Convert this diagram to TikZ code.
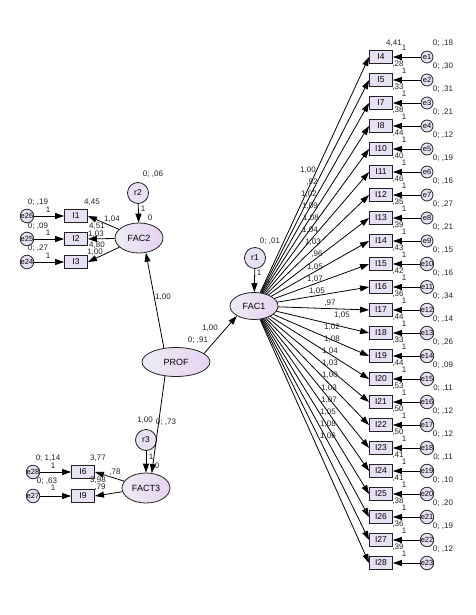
\documentclass[tikz,border=0pt]{standalone}
\usepackage{fontspec}
\setmainfont{Liberation Sans}
\usetikzlibrary{arrows.meta, shapes.geometric}
\definecolor{nodelav}{RGB}{232,224,244}
\definecolor{ellleft}{RGB}{236,236,244}
\definecolor{ellright}{RGB}{232,210,242}
\definecolor{linegray}{RGB}{35,35,35}

\begin{document}
\begin{tikzpicture}[
    x=1pt, y=-1pt,
    latent/.style={ellipse, draw=linegray, line width=0.8pt, left color=ellleft, right color=ellright,
                   inner sep=0pt, font=\fontsize{9}{10}\selectfont},
    obs/.style={rectangle, draw=linegray, line width=0.9pt, fill=nodelav, minimum width=23pt,
                minimum height=13pt, inner sep=0pt, font=\fontsize{8.5}{9}\selectfont},
    resid/.style={circle, draw=linegray, line width=0.8pt, fill=nodelav, minimum size=21pt,
                  inner sep=0pt, font=\fontsize{8.5}{9}\selectfont},
    err/.style={circle, draw=linegray, line width=0.8pt, fill=nodelav, minimum size=12pt,
                inner sep=0pt, font=\fontsize{7.5}{8}\selectfont},
    val/.style={inner sep=0pt, font=\fontsize{8}{9}\selectfont, text=linegray},
    arr/.style={-{Triangle[length=9pt, width=6pt]}, line width=0.8pt, color=black}
]
\useasboundingbox (0,0) rectangle (475,615);

% Latent factors
\node[latent, minimum width=68pt, minimum height=29pt] (PROF) at (176,362) {PROF};
\node[latent, minimum width=48pt, minimum height=27pt] (FAC1) at (254,306) {FAC1};
\node[latent, minimum width=48pt, minimum height=30pt] (FAC2) at (139,238) {FAC2};
\node[latent, minimum width=48pt, minimum height=30pt] (FACT3) at (146,488) {FACT3};

% Disturbances
\node[resid] (r1) at (255,258) {r1};
\node[resid] (r2) at (138,193) {r2};
\node[resid] (r3) at (146,440) {r3};

% FAC1 indicators
\foreach \nm [count=\k] in {4,5,7,8,10,11,12,13,14,15,16,17,18,19,20,21,22,23,24,25,26,27,28} {
  \node[obs] (I\nm) at (381,{34+23*\k}) {I\nm};
  \node[err] (e\k) at (427,{34+23*\k}) {e\k};
  \draw[arr] (e\k) -- (I\nm.east);
  \draw[arr] (FAC1) -- (I\nm.west);
  \node[val] at (404,{25+23*\k}) {1};
}
\foreach \v [count=\k] in {18,30,31,21,12,19,16,27,21,15,16,34,14,26,09,11,12,12,11,10,20,19,12}
  \node[val] at (443,{20+23*\k}) {0; ,\v};
\foreach \v [count=\k] in {28,33,38,44,40,46,35,39,43,42,36,44,33,44,53,50,50,41,41,38,36,39}
  \node[val] at (398,{41+23*\k}) {,\v};
\node[val] at (394,43) {4,41};
\foreach \v/\x [count=\k] in {1{,}00/308, {,}92/312, 1{,}02/309, 1{,}09/310, 1{,}08/311, 1{,}04/310,
    1{,}03/313, {,}96/317, 1{,}05/315, 1{,}07/315, 1{,}05/317, {,}97/330, 1{,}05/342, 1{,}02/332,
    1{,}08/332, 1{,}04/330, 1{,}03/330, 1{,}00/330, 1{,}03/329, 1{,}07/329, 1{,}05/328, 1{,}08/328, 1{,}06/328}
  \node[val] at (\x,{157.9+12.1*\k}) {\v};

% FAC2 indicators
\node[obs] (I1) at (76,216) {I1};
\node[obs] (I2) at (76,239) {I2};
\node[obs] (I3) at (76,262) {I3};
\node[err] (e26) at (27,216) {e26};
\node[err] (e25) at (27,239) {e25};
\node[err] (e24) at (27,262) {e24};

% FACT3 indicators
\node[obs] (I6) at (83,472) {I6};
\node[obs] (I9) at (83,496) {I9};
\node[err] (e28) at (33,472) {e28};
\node[err] (e27) at (33,496) {e27};

% Arrows
\draw[arr] (r1) -- (FAC1);
\draw[arr] (r2) -- (FAC2);
\draw[arr] (r3) -- (FACT3);
\draw[arr] (PROF.17) -- (FAC1.-150);
\draw[arr] (PROF.131) -- (FAC2.-65);
\draw[arr] (PROF.-128) -- (FACT3.69);
\draw[arr] (FAC2) -- (I1.east);
\draw[arr] (FAC2) -- (I2.east);
\draw[arr] (FAC2) -- (I3.east);
\draw[arr] (e26) -- (I1);
\draw[arr] (e25) -- (I2);
\draw[arr] (e24) -- (I3);
\draw[arr] (FACT3) -- (I6.east);
\draw[arr] (FACT3) -- (I9.east);
\draw[arr] (e28) -- (I6);
\draw[arr] (e27) -- (I9);

% Estimates
\node[val] at (198,340) {0; ,91};
\node[val] at (210,328) {1,00};
\node[val] at (163,297) {1,00};
\node[val] at (270,241) {0; ,01};
\node[val] at (259,273) {1};
\node[val] at (267,283) {0};
\node[val] at (153,174) {0; ,06};
\node[val] at (143,209) {1};
\node[val] at (150,218) {0};
\node[val] at (38,202) {0; ,19};
\node[val] at (48,210) {1};
\node[val] at (38,226) {0; ,09};
\node[val] at (48,233) {1};
\node[val] at (38,248) {0; ,27};
\node[val] at (48,256) {1};
\node[val] at (92,202) {4,45};
\node[val] at (112,219) {1,04};
\node[val] at (97,226) {4,51};
\node[val] at (96,234) {1,03};
\node[val] at (97,245) {4,80};
\node[val] at (95,252) {1,00};
\node[val] at (145,420) {1,00};
\node[val] at (166,422) {0; ,73};
\node[val] at (151,457) {1};
\node[val] at (157,466) {0};
\node[val] at (48,458) {0; 1,14};
\node[val] at (53,466) {1};
\node[val] at (47,481) {0; ,63};
\node[val] at (53,488) {1};
\node[val] at (98,458) {3,77};
\node[val] at (98,480) {3,98};
\node[val] at (100,487) {,79};
\node[val] at (115,472) {,78};

\end{tikzpicture}
\end{document}
